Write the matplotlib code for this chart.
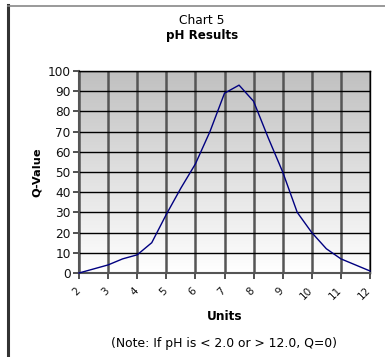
import numpy as np
import matplotlib
matplotlib.use("Agg")
import matplotlib.pyplot as plt
from matplotlib.lines import Line2D
from matplotlib.colors import LinearSegmentedColormap
from matplotlib.transforms import ScaledTranslation

# pH readings and their Q-values
ph_units = [2, 3, 3.5, 4, 4.5, 5, 5.5, 6, 6.5, 7, 7.5, 8, 8.5, 9, 9.5, 10, 10.5, 11, 11.5, 12]
q_values = [0, 4, 7, 9, 15, 29, 42, 54, 70, 89, 93, 85, 67, 50, 30, 20, 12, 7, 4, 1]
x_ticks = list(range(2, 13))
y_ticks = list(range(0, 101, 10))

W, H = 385, 357
fig = plt.figure(figsize=(W / 100, H / 100), dpi=100)
fig.patch.set_facecolor("white")

# outer frame: dark left edge, thin gray top edge
fig.add_artist(Line2D([7.5 / W, 7.5 / W], [0, 1 - 5 / H], transform=fig.transFigure,
                      color="#333333", lw=2.2))
fig.add_artist(Line2D([7.5 / W, 1], [1 - 5.5 / H, 1 - 5.5 / H], transform=fig.transFigure,
                      color="#888888", lw=1.2))

left, right, top, bottom = 79, 370, 71, 273
ax = fig.add_axes([left / W, 1 - bottom / H, (right - left) / W, (bottom - top) / H])

# vertical gradient background from gray to white
grad = np.linspace(1.0, 0.0, 256).reshape(-1, 1)
cmap = LinearSegmentedColormap.from_list("bg", ["#ffffff", "#c0c0c0"])
ax.imshow(grad, cmap=cmap, aspect="auto", extent=[2, 12, 0, 100], zorder=0,
          interpolation="bilinear")

ax.set_xlim(2, 12)
ax.set_ylim(0, 100)
ax.set_xticks(x_ticks)
ax.set_yticks(y_ticks)

for x in x_ticks:
    ax.axvline(x, color="#555555", lw=1.8, zorder=1)
for y in y_ticks:
    ax.axhline(y, color="#000000", lw=1.0, zorder=1)

ax.plot(ph_units, q_values, color="#000080", lw=1.0, zorder=3, clip_on=False)

for side in ["left", "bottom"]:
    ax.spines[side].set_color("#555555")
    ax.spines[side].set_linewidth(1.5)
for side in ["top", "right"]:
    ax.spines[side].set_color("#000000")
    ax.spines[side].set_linewidth(1.0)

ax.tick_params(axis="both", direction="out", length=4, width=1.2, color="#333333",
               labelcolor="#111111", pad=2)
ax.set_yticklabels([str(v) for v in y_ticks], fontsize=8.7)
ax.set_xticklabels([str(v) for v in x_ticks], rotation=45, ha="right", va="top",
                   rotation_mode="anchor", fontsize=7.5)
shift = ScaledTranslation(-4 / 100, -4 / 100, fig.dpi_scale_trans)
for lbl in ax.get_xticklabels():
    lbl.set_transform(lbl.get_transform() + shift)

ax.set_ylabel("Q-Value", fontsize=8.2, fontweight="bold", labelpad=4)
ax.set_xlabel("Units", fontsize=8.7, fontweight="bold", labelpad=6)

fig.text(202 / W, 1 - 20 / H, "Chart 5", ha="center", va="center", fontsize=8.8)
fig.text(202 / W, 1 - 35 / H, "pH Results", ha="center", va="center", fontsize=8.6,
         fontweight="bold")
fig.text(224 / W, 1 - 343 / H, "(Note: If pH is < 2.0 or > 12.0, Q=0)", ha="center",
         va="center", fontsize=8.9)

fig.savefig("out.png", dpi=100)
